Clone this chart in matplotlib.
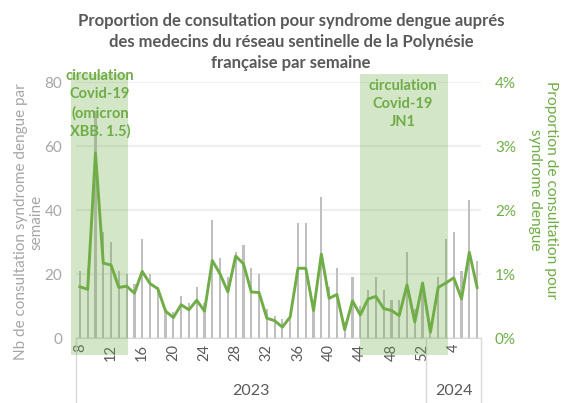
import matplotlib.pyplot as plt
from matplotlib.patches import Rectangle
from matplotlib.lines import Line2D
from matplotlib.ticker import FuncFormatter

plt.rcParams['font.family'] = ['Lato', 'DejaVu Sans']

# weeks: 2023 w8..w52, then 2024 w1..w7
weeks_2023 = list(range(8, 53))
weeks_2024 = list(range(1, 8))
years = ['2023', '2024']

# number of consultations for dengue syndrome (bars)
nb_consult = [21, 22, 71, 33, 30, 21, 20, 17, 31, 20, 16, 9, 8, 13, 11, 16, 11,
              37, 25, 19, 27, 29, 22, 20, 9, 7, 6, 7, 36, 36, 10, 44, 16, 22, 5,
              19, 10, 15, 19, 15, 12, 12, 27, 9, 17,
              4, 19, 31, 33, 21, 43, 24]

# proportion (%) of consultations (line)
proportion = [0.80, 0.76, 2.89, 1.17, 1.14, 0.79, 0.81, 0.70, 1.04, 0.85, 0.77,
              0.42, 0.32, 0.52, 0.44, 0.59, 0.42, 1.21, 1.00, 0.72, 1.28, 1.16,
              0.72, 0.71, 0.31, 0.27, 0.17, 0.33, 1.09, 1.09, 0.43, 1.31, 0.62,
              0.68, 0.13, 0.58, 0.36, 0.61, 0.65, 0.46, 0.43, 0.35, 0.83, 0.25,
              0.86,
              0.09, 0.79, 0.86, 0.94, 0.61, 1.34, 0.79]

week_labels = [str(w) for w in weeks_2023] + [str(w) for w in weeks_2024]
x = list(range(len(week_labels)))

green = '#70AD47'
grey_txt = '#A6A6A6'
dark = '#595959'

fig = plt.figure(figsize=(5.61, 4.03), dpi=100)
ax = fig.add_axes([76 / 561, 1 - 338 / 403, 405 / 561, 256 / 403])
ax2 = ax.twinx()

ax.bar(x, nb_consult, width=0.28, color='#BFBFBF', zorder=2)
ax.set_ylim(0, 80)
ax.set_yticks([0, 20, 40, 60, 80])
ax.set_xlim(-0.5, len(x) - 0.5)
ax.grid(axis='y', color='#EFEFEF', linewidth=1.5, zorder=0)
ax.set_axisbelow(True)

ax2.plot(x, proportion, color=green, linewidth=2.1, zorder=3)
ax2.set_ylim(0, 4)
ax2.set_yticks([0, 1, 2, 3, 4])
ax2.yaxis.set_major_formatter(FuncFormatter(lambda v, p: '%d%%' % v))

for a in (ax, ax2):
    for s in ['top', 'left', 'right']:
        a.spines[s].set_visible(False)
    a.spines['bottom'].set_color('#D9D9D9')
ax2.spines['bottom'].set_visible(False)

ax.tick_params(axis='y', length=0, labelsize=11, labelcolor=grey_txt, pad=10)
ax2.tick_params(axis='y', length=0, labelsize=11, labelcolor=green, pad=10)

# x ticks every 4 weeks
tick_pos = [i for i, lab in enumerate(week_labels) if int(lab) % 4 == 0]
ax.set_xticks(tick_pos)
ax.set_xticklabels([week_labels[i] for i in tick_pos], rotation=90)
ax.tick_params(axis='x', length=0, labelsize=10.5, labelcolor=dark, pad=4)

# year level of the category axis
n23 = len(weeks_2023)
for xb in [-0.5, n23 - 0.5, len(x) - 0.5]:
    ax.add_line(Line2D([xb, xb], [0, -20], color='#D9D9D9', linewidth=1,
                       clip_on=False))
ax.text((n23 - 1) / 2, -16.5, years[0], ha='center', va='center',
        fontsize=11.5, color=dark)
ax.text(n23 + (len(weeks_2024) - 1) / 2, -16.5, years[1], ha='center',
        va='center', fontsize=11.5, color=dark)

# covid circulation bands
for x0, x1 in [(-1.12, 6.2), (36.0, 47.3)]:
    ax2.add_patch(Rectangle((x0, -5.3), x1 - x0, 87.8, transform=ax.transData,
                            facecolor=green, alpha=0.3, edgecolor='none',
                            clip_on=False, zorder=4))
ax.text(2.6, 84, 'circulation\nCovid-19\n(omicron\nXBB. 1.5)', ha='center',
        va='top', fontsize=10.5, fontweight='bold', color=green,
        linespacing=1.38, zorder=10)
ax.text(41.5, 81, 'circulation\nCovid-19\nJN1', ha='center', va='top',
        fontsize=10.5, fontweight='bold', color=green, linespacing=1.38,
        zorder=10)

fig.text(291 / 561, 1 - 42 / 403,
         'Proportion de consultation pour syndrome dengue auprés\n'
         'des medecins du réseau sentinelle de la Polynésie\n'
         'française par semaine', ha='center', va='center', fontsize=12,
         fontweight='bold', color=dark, linespacing=1.4)

fig.text(29 / 561, 1 - 222 / 403, 'Nb de consultation syndrome dengue par\nsemaine',
         rotation=90, ha='center', va='center', fontsize=11, color=grey_txt,
         multialignment='center', linespacing=1.1)
fig.text(543 / 561, 1 - 190 / 403, 'Proportion de consultation pour\nsyndrome dengue',
         rotation=270, ha='center', va='center', fontsize=11.2, color=green,
         multialignment='center', linespacing=1.1)

fig.savefig('out.png', dpi=100)
